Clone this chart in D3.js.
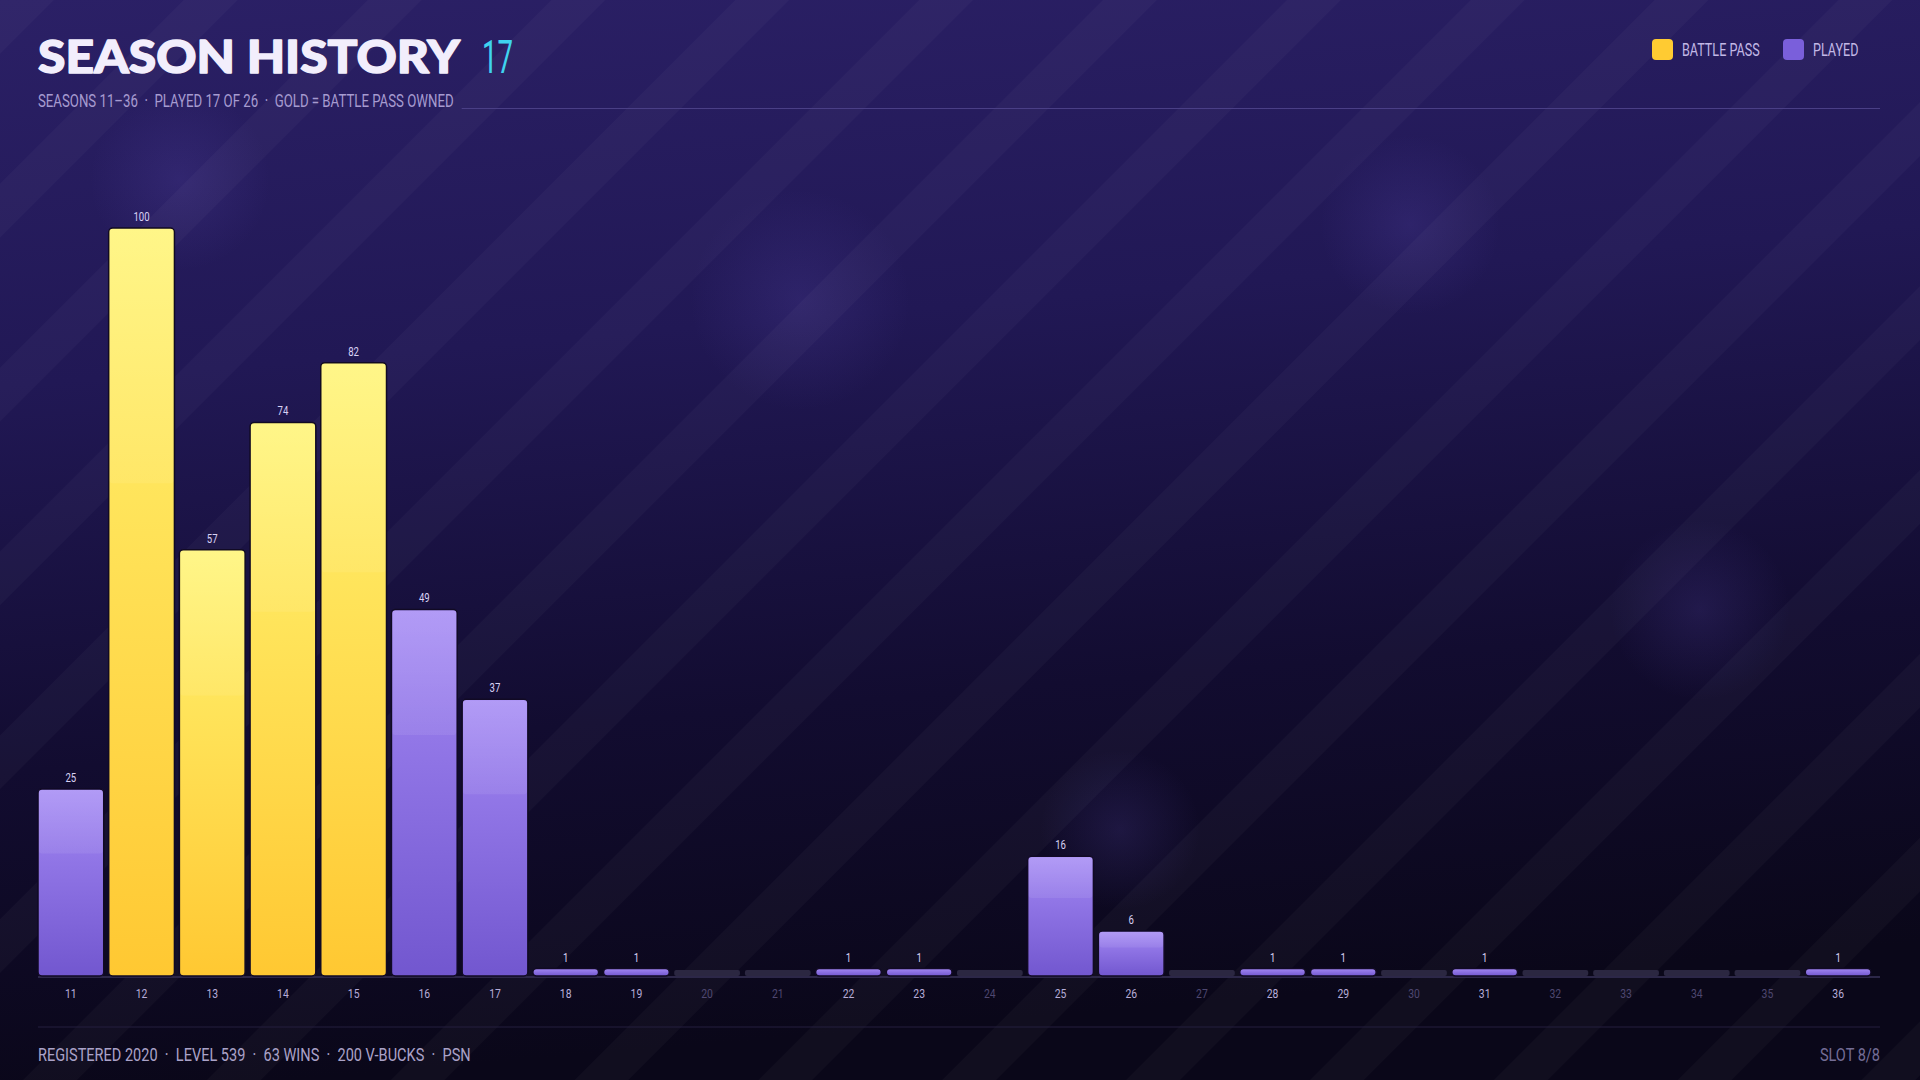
<!DOCTYPE html>
<html><head><meta charset="utf-8">
<script src="https://cdn.jsdelivr.net/npm/d3@7/dist/d3.min.js"></script>
<style>
html,body{margin:0;padding:0;background:#0b0820;}
svg{display:block;}
text{white-space:pre;}
</style></head>
<body>
<svg id="c" width="1920" height="1080"></svg>
<script>
const seasons = [11,12,13,14,15,16,17,18,19,20,21,22,23,24,25,26,27,28,29,30,31,32,33,34,35,36];
const levels  = [25,100,57,74,82,49,37,1,1,0,0,1,1,0,16,6,0,1,1,0,1,0,0,0,0,1];
const battlePass = [false,true,true,true,true,false,false,false,false,false,false,false,false,false,false,false,false,false,false,false,false,false,false,false,false,false];
const titleText = "SEASON HISTORY";
const titleCount = "17";
const subtitle = "SEASONS 11\u201336  \u00B7  PLAYED 17 OF 26  \u00B7  GOLD = BATTLE PASS OWNED";
const footerLeft = "REGISTERED 2020  \u00B7  LEVEL 539  \u00B7  63 WINS  \u00B7  200 V-BUCKS  \u00B7  PSN";
const footerRight = "SLOT 8/8";
const legendItems = ["BATTLE PASS","PLAYED"];

const W=1920,H=1080, L=38, R=1871, EDGE=1880, base=976, topY=228;
const FONT="Roboto, 'Noto Sans', sans-serif";
const svg=d3.select("#c");
const defs=svg.append("defs");

function cText(parent, x, y, size, sx, anchor){
  return parent.append("text").attr("x",x/sx).attr("y",y).attr("transform",`scale(${sx},1)`)
    .attr("font-family",FONT).attr("font-size",size).attr("text-anchor",anchor||"start");
}

// background gradient
const bg=defs.append("linearGradient").attr("id","bg").attr("x1",0).attr("y1",0).attr("x2",0.15).attr("y2",1);
[[0,"#2b2066"],[0.35,"#211855"],[0.7,"#120c30"],[1,"#0a0719"]].forEach(s=>bg.append("stop").attr("offset",s[0]).attr("stop-color",s[1]));
svg.append("rect").attr("width",W).attr("height",H).attr("fill","url(#bg)");

// soft glows
const glow=defs.append("radialGradient").attr("id","glow");
glow.append("stop").attr("offset",0).attr("stop-color","#6a58c8").attr("stop-opacity",0.17);
glow.append("stop").attr("offset",1).attr("stop-color","#6a58c8").attr("stop-opacity",0);
[[180,180,90],[800,300,110],[1410,225,90],[1700,610,90],[1120,830,80]].forEach(g=>
  svg.append("circle").attr("cx",g[0]).attr("cy",g[1]).attr("r",g[2]).attr("fill","url(#glow)"));

// diagonal stripes
const pat=defs.append("pattern").attr("id","stripes").attr("patternUnits","userSpaceOnUse")
  .attr("width",130).attr("height",130).attr("patternTransform","rotate(45)");
pat.append("rect").attr("x",0).attr("y",0).attr("width",38).attr("height",130).attr("fill","#ffffff").attr("fill-opacity",0.028);
svg.append("rect").attr("width",W).attr("height",H).attr("fill","url(#stripes)");

// bar gradients
const gp=defs.append("linearGradient").attr("id","gPurple").attr("x1",0).attr("y1",0).attr("x2",0).attr("y2",1);
gp.append("stop").attr("offset",0).attr("stop-color","#a388f4");
gp.append("stop").attr("offset",1).attr("stop-color","#7257cf");
const gg=defs.append("linearGradient").attr("id","gGold").attr("x1",0).attr("y1",0).attr("x2",0).attr("y2",1);
gg.append("stop").attr("offset",0).attr("stop-color","#fff472");
gg.append("stop").attr("offset",1).attr("stop-color","#ffc832");
const gl=defs.append("linearGradient").attr("id","gGloss").attr("x1",0).attr("y1",0).attr("x2",0).attr("y2",1);
gl.append("stop").attr("offset",0).attr("stop-color","#ffffff").attr("stop-opacity",0.16);
gl.append("stop").attr("offset",1).attr("stop-color","#ffffff").attr("stop-opacity",0.07);

// scales
const x=d3.scaleBand().domain(seasons).range([L,R]).paddingInner(0.07).paddingOuter(0.0);
const y=d3.scaleLinear().domain([0,100]).range([base,topY]);

const data=seasons.map((s,i)=>({s,v:levels[i],bp:battlePass[i]}));

// axis baseline
svg.append("line").attr("x1",L).attr("x2",EDGE).attr("y1",base+1).attr("y2",base+1)
  .attr("stroke","#2c2748").attr("stroke-width",2);

const g=svg.append("g");
g.selectAll("rect.empty").data(data.filter(d=>d.v===0)).join("rect")
  .attr("x",d=>x(d.s)).attr("width",x.bandwidth()).attr("y",base-6).attr("height",6)
  .attr("rx",2).attr("fill","#2b2741");
const played=data.filter(d=>d.v>0);
g.selectAll("rect.bar").data(played).join("rect")
  .attr("x",d=>x(d.s)).attr("width",x.bandwidth())
  .attr("y",d=>y(d.v)).attr("height",d=>base-y(d.v))
  .attr("rx",d=>Math.min(4,(base-y(d.v))/2)).attr("fill",d=>d.bp?"url(#gGold)":"url(#gPurple)")
  .attr("stroke","#110a24").attr("stroke-width",1.5);
g.selectAll("rect.gloss").data(played.filter(d=>d.v>2)).join("rect")
  .attr("x",d=>x(d.s)+1).attr("width",x.bandwidth()-2)
  .attr("y",d=>y(d.v)+1).attr("height",d=>(base-y(d.v))*0.34)
  .attr("rx",3).attr("fill","url(#gGloss)");

// value labels
played.forEach(d=>{
  cText(g, x(d.s)+x.bandwidth()/2, y(d.v)-7, 12, 0.8, "middle").attr("fill","#d9d2f5").text(d.v);
});

// x axis labels
const xa=d3.axisBottom(x).tickSize(0).tickPadding(0);
const ax=svg.append("g").attr("transform",`translate(0,${base+22})`).call(xa);
ax.select(".domain").remove();
ax.selectAll("text").attr("font-family",FONT).attr("font-size",13).attr("transform","scale(0.8,1)")
  .attr("fill",(d,i)=>levels[i]>0?"#b6acd8":"#4e4770").attr("dy","0");

// title
svg.append("text").attr("x",L).attr("y",73)
  .attr("font-family","Lato, Inter, sans-serif").attr("font-weight",900).attr("font-size",46)
  .attr("fill","#f2eefc").attr("stroke","#f2eefc").attr("stroke-width",1.4).attr("stroke-linejoin","round")
  .attr("textLength",422).attr("lengthAdjust","spacingAndGlyphs").text(titleText);
cText(svg, 482, 73, 46, 0.6, "start").attr("fill","#3fd3ef").text(titleCount);

// subtitle
const SX=0.735;
const st=cText(svg, L, 107, 18, SX, "start").attr("fill","#a69bd0").text(subtitle);
const stw=st.node().getComputedTextLength()*SX;
svg.append("line").attr("x1",L+stw+8).attr("x2",EDGE).attr("y1",108.5).attr("y2",108.5)
  .attr("stroke","#4a3f86").attr("stroke-width",1.2);

// legend
const lx=[1652,1783];
legendItems.forEach((name,i)=>{
  svg.append("rect").attr("x",lx[i]).attr("y",39).attr("width",21).attr("height",21).attr("rx",4)
    .attr("fill",i===0?"#ffcb32":"#7a5fdb");
  cText(svg, lx[i]+30, 56.5, 18, 0.7, "start").attr("fill","#c2b8e6").text(name);
});

// footer
svg.append("line").attr("x1",L).attr("x2",EDGE).attr("y1",1027).attr("y2",1027)
  .attr("stroke","#241f3e").attr("stroke-width",1.2);
cText(svg, L, 1061, 19, 0.765, "start").attr("fill","#aaa2c8").text(footerLeft);
cText(svg, EDGE, 1061, 19, 0.765, "end").attr("fill","#746d96").text(footerRight);
</script>
</body></html>
